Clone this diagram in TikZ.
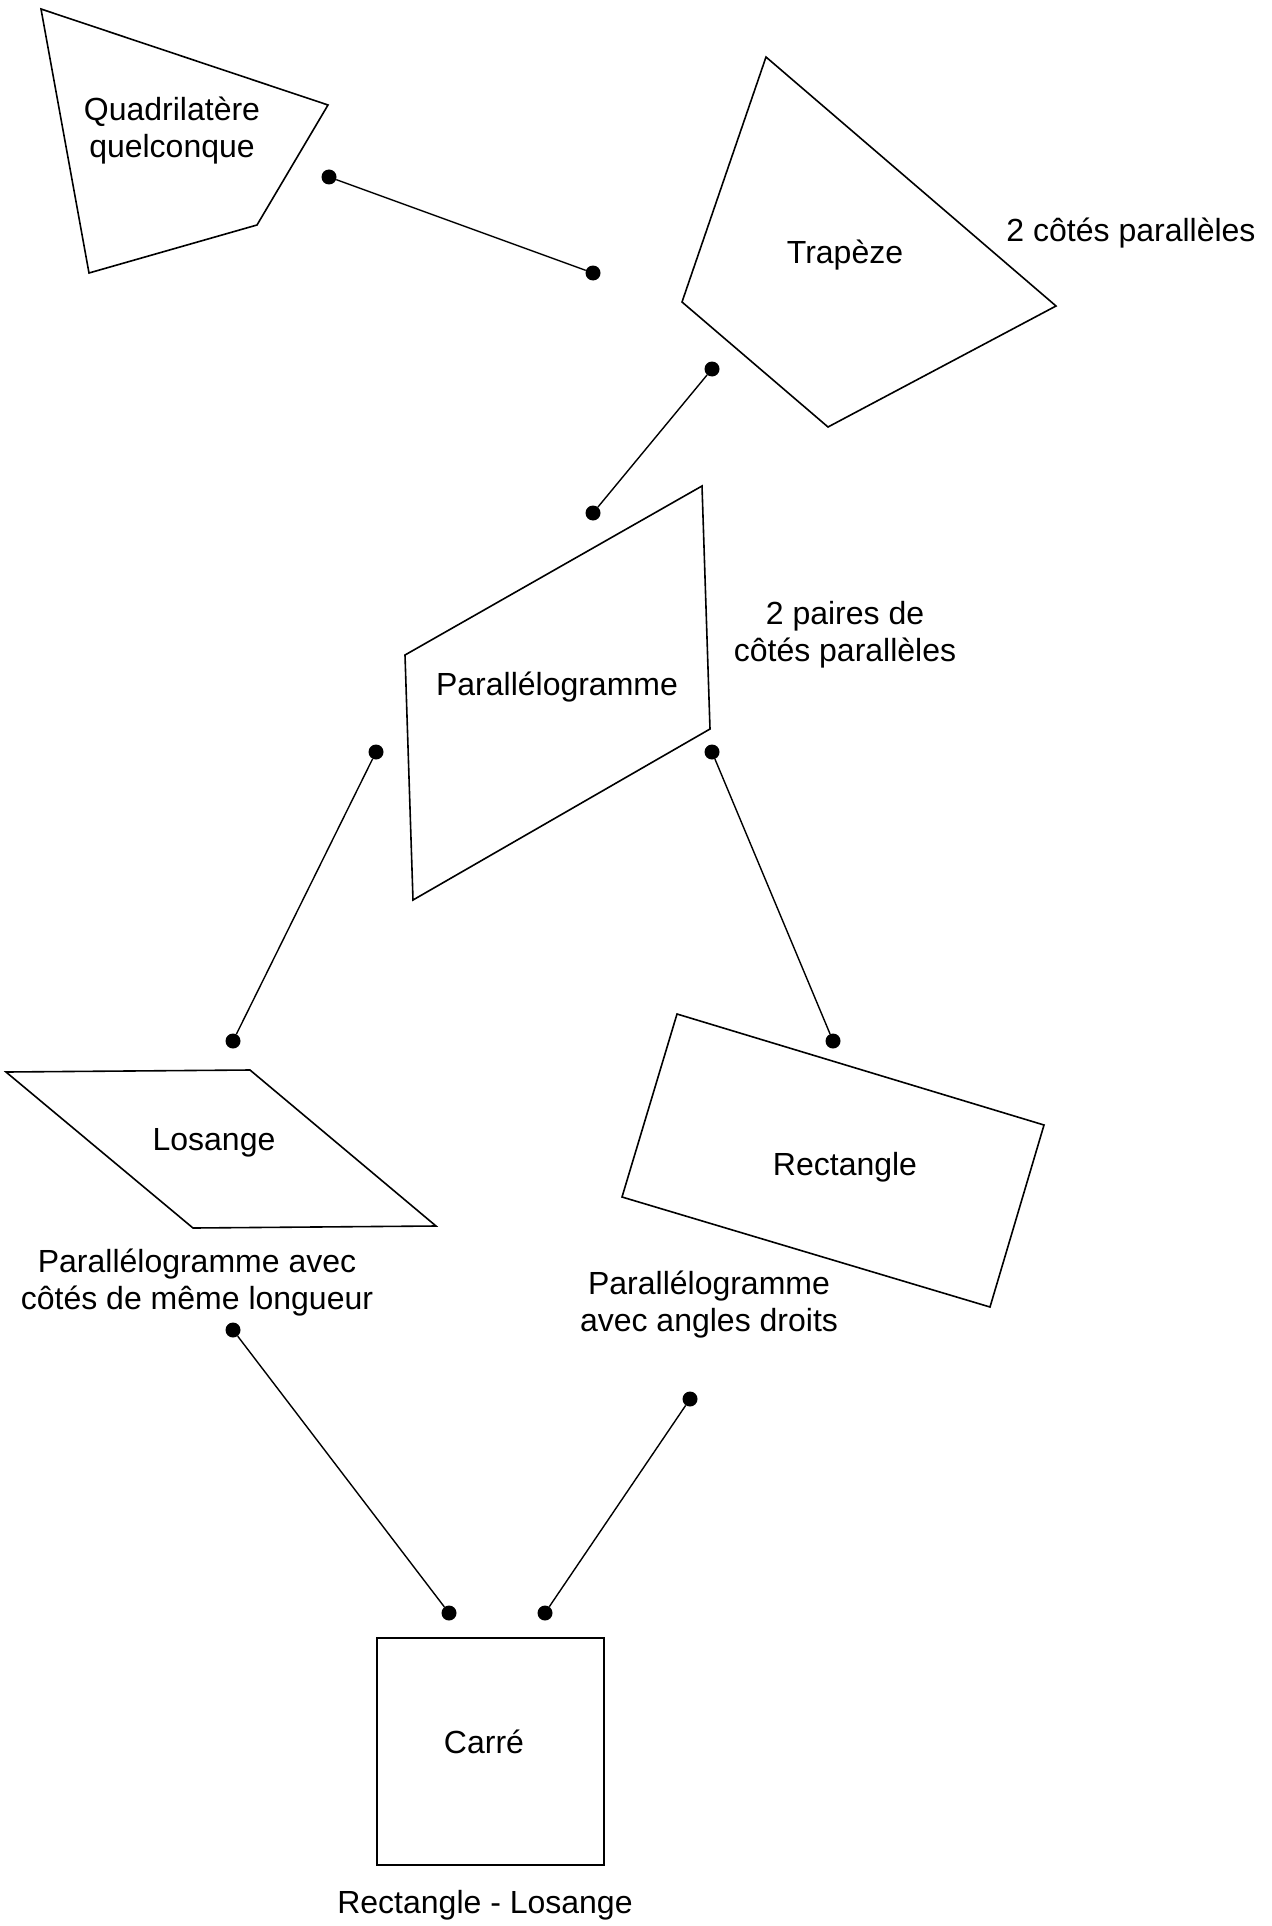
\documentclass[tikz,border=0pt]{standalone}
\usepackage{fontspec}
\setmainfont{Liberation Sans}
\tikzset{
  outline/.style={line width=1.6pt,line join=miter},
  link/.style={line width=1.4pt},
  lbl/.style={align=center,inner sep=0pt,font=\fontsize{32}{37}\selectfont},
  dot/.style={circle,fill=black,inner sep=0pt,minimum size=15pt}
}
\begin{document}
\begin{tikzpicture}[x=1pt,y=-1pt]
            \useasboundingbox (0,0) rectangle (1271,1926);
            \draw[outline] (41,9) -- (328,105) -- (257,225) -- (89,273) -- cycle;
            \node[lbl] (quad) at (172,131) {Quadrilatère\\quelconque};
            \draw[outline] (766,57) -- (1056,306) -- (828,427) -- (682,302) -- cycle;
            \node[lbl] (trap) at (845,255) {Trapèze};
            \node[lbl] (trapnote) at (1131,233) {2 côtés parallèles};
            \draw[outline] (702,486) -- (710,729) -- (413,900) -- (405,655) -- cycle;
            \node[lbl] (para) at (557,687) {Parallélogramme};
            \node[lbl] (paranote) at (845,635) {2 paires de\\côtés parallèles};
            \draw[outline] (6,1072) -- (250,1070) -- (436,1226) -- (193,1228) -- cycle;
            \node[lbl] (los) at (214,1143) {Losange};
            \node[lbl] (losnote) at (197,1283) {Parallélogramme avec\\côtés de même longueur};
            \draw[outline] (677,1014) -- (1044,1125) -- (990,1307) -- (622,1197) -- cycle;
            \node[lbl] (rect) at (845,1167) {Rectangle};
            \node[lbl] (rectnote) at (709,1305) {Parallélogramme\\avec angles droits};
            \draw[outline] (377,1638) rectangle (604,1865);
            \node[lbl] (carre) at (484,1742) {Carré};
            \node[lbl] (carrenote) at (485,1905) {Rectangle - Losange};
            \foreach \n/\p in {q1/{(329,177)}, t1/{(593,273)}, t2/{(712,369)}, p1/{(593,513)},
                               p2/{(376,752)}, p3/{(712,752)}, l1/{(233,1041)}, r1/{(833,1041)},
                               l2/{(233,1330)}, r2/{(690,1399)}, c1/{(449,1613)}, c2/{(545,1613)}}
            \node[dot] (\n) at \p {};
            \draw[link] (q1) -- (t1);
            \draw[link] (t2) -- (p1);
            \draw[link] (p2) -- (l1);
            \draw[link] (p3) -- (r1);
            \draw[link] (l2) -- (c1);
            \draw[link] (r2) -- (c2);
        \end{tikzpicture}
\end{document}
